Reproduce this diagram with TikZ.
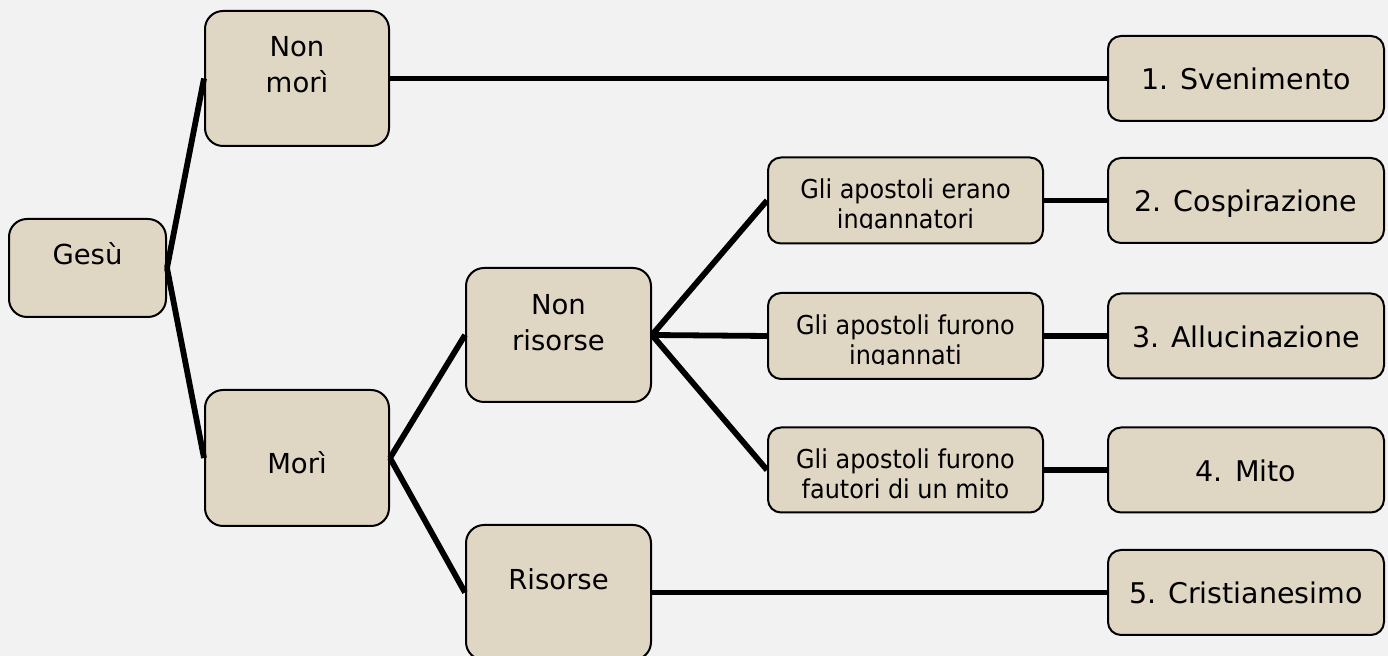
\documentclass[tikz,border=0pt]{standalone}
\usepackage{fontspec}
\setmainfont{DejaVu Sans}
\newfontfamily\narrowsans{DejaVu Sans}[FakeStretch=0.92]
\usepackage{xcolor}
\usepackage{tikz}
\usetikzlibrary{calc}
\definecolor{bg}{HTML}{F2F2F2}
\definecolor{boxfill}{HTML}{DFD7C4}
\tikzset{
  bigbox/.style={draw=black, line width=1pt, fill=boxfill, rounded corners=9pt, inner sep=0pt, minimum width=92pt, minimum height=67.5pt},
  midbox/.style={draw=black, line width=1pt, fill=boxfill, rounded corners=6.5pt, inner sep=0pt, minimum width=137.5pt, minimum height=43pt},
  endbox/.style={midbox, minimum width=138pt, minimum height=42.5pt},
  link/.style={draw=black, line width=2.9pt},
  bigtxt/.style={font=\fontsize{13.75}{18}\selectfont, align=center, inner sep=0pt},
  endtxt/.style={font=\fontsize{14.25}{18}\selectfont, inner sep=0pt, anchor=base},
  midtxt/.style={font=\narrowsans\fontsize{13}{15}\selectfont, align=center, inner sep=0pt}
}

\begin{document}
\begin{tikzpicture}[x=0.5pt, y=-0.5pt]
  \useasboundingbox (0,0) rectangle (1388,656);
  \fill[bg] (0,0) rectangle (1388,656);

  % boxes
  \node[bigbox, minimum width=78.5pt, minimum height=49pt] (gesu) at (87.5,268) {};
  \node[bigbox] (nonmori) at (297,78.5) {};
  \node[bigbox, minimum height=68pt] (mori) at (297,458) {};
  \node[bigbox, minimum width=92.5pt, minimum height=67pt] (nonris) at (558.5,335) {};
  \node[bigbox, minimum width=92.5pt] (risorse) at (558.5,592.5) {};
  \node[midbox] (inganna) at (905.5,200.5) {};
  \node[midbox] (ingannati) at (905.5,336) {};
  \node[midbox, minimum height=42.5pt] (fautori) at (905.5,470) {};
  \node[endbox] (sven) at (1246,78.5) {};
  \node[endbox] (cosp) at (1246,200.5) {};
  \node[endbox] (alluc) at (1246,336) {};
  \node[endbox] (mito) at (1246,470) {};
  \node[endbox] (crist) at (1246,592.5) {};

  % texts
  \node[bigtxt, anchor=base] (gesu-t) at ($(gesu)+(0,-3)$) {Gesù};
  \node[bigtxt] (nonmori-t) at ($(nonmori)+(0,-13.5)$) {Non\\morì};
  \node[bigtxt, anchor=base] (mori-t) at ($(mori)+(0,16)$) {Morì};
  \node[bigtxt] (nonris-t) at ($(nonris)+(0,-12.5)$) {Non\\risorse};
  \node[bigtxt, anchor=base] (risorse-t) at ($(risorse)+(0,-2.5)$) {Risorse};
  \begin{scope}
    \clip (inganna.north west) rectangle ($(inganna.east)+(0,28.5)$);
    \node[midtxt] (inganna-t) at ($(inganna)+(0,6)$) {Gli apostoli erano\\ingannatori};
  \end{scope}
  \begin{scope}
    \clip (ingannati.north west) rectangle ($(ingannati.east)+(0,29)$);
    \node[midtxt] (ingannati-t) at ($(ingannati)+(0,6)$) {Gli apostoli furono\\ingannati};
  \end{scope}
  \node[midtxt] (fautori-t) at ($(fautori)+(0,3.5)$) {Gli apostoli furono\\fautori di un mito};
  \node[endtxt] (sven-t) at ($(sven)+(0,11.5)$) {1. Svenimento};
  \node[endtxt] (cosp-t) at ($(cosp)+(0,11.5)$) {2. Cospirazione};
  \node[endtxt] (alluc-t) at ($(alluc)+(0,11.5)$) {3. Allucinazione};
  \node[endtxt] (mito-t) at ($(mito)+(0,11.5)$) {4. Mito};
  \node[endtxt] (crist-t) at ($(crist)+(0,11.5)$) {5. Cristianesimo};

  % connectors
  \draw[link] (gesu.east) -- (nonmori.west);
  \draw[link] (gesu.east) -- (mori.west);
  \draw[link] (nonmori.east) -- (sven.west);
  \draw[link] (mori.east) -- (nonris.west);
  \draw[link] (mori.east) -- (risorse.west);
  \draw[link] (nonris.east) -- (inganna.west);
  \draw[link] (nonris.east) -- (ingannati.west);
  \draw[link] (nonris.east) -- (fautori.west);
  \draw[link] (inganna.east) -- (cosp.west);
  \draw[link] (ingannati.east) -- (alluc.west);
  \draw[link] (fautori.east) -- (mito.west);
  \draw[link] (risorse.east) -- (crist.west);
\end{tikzpicture}
\end{document}
